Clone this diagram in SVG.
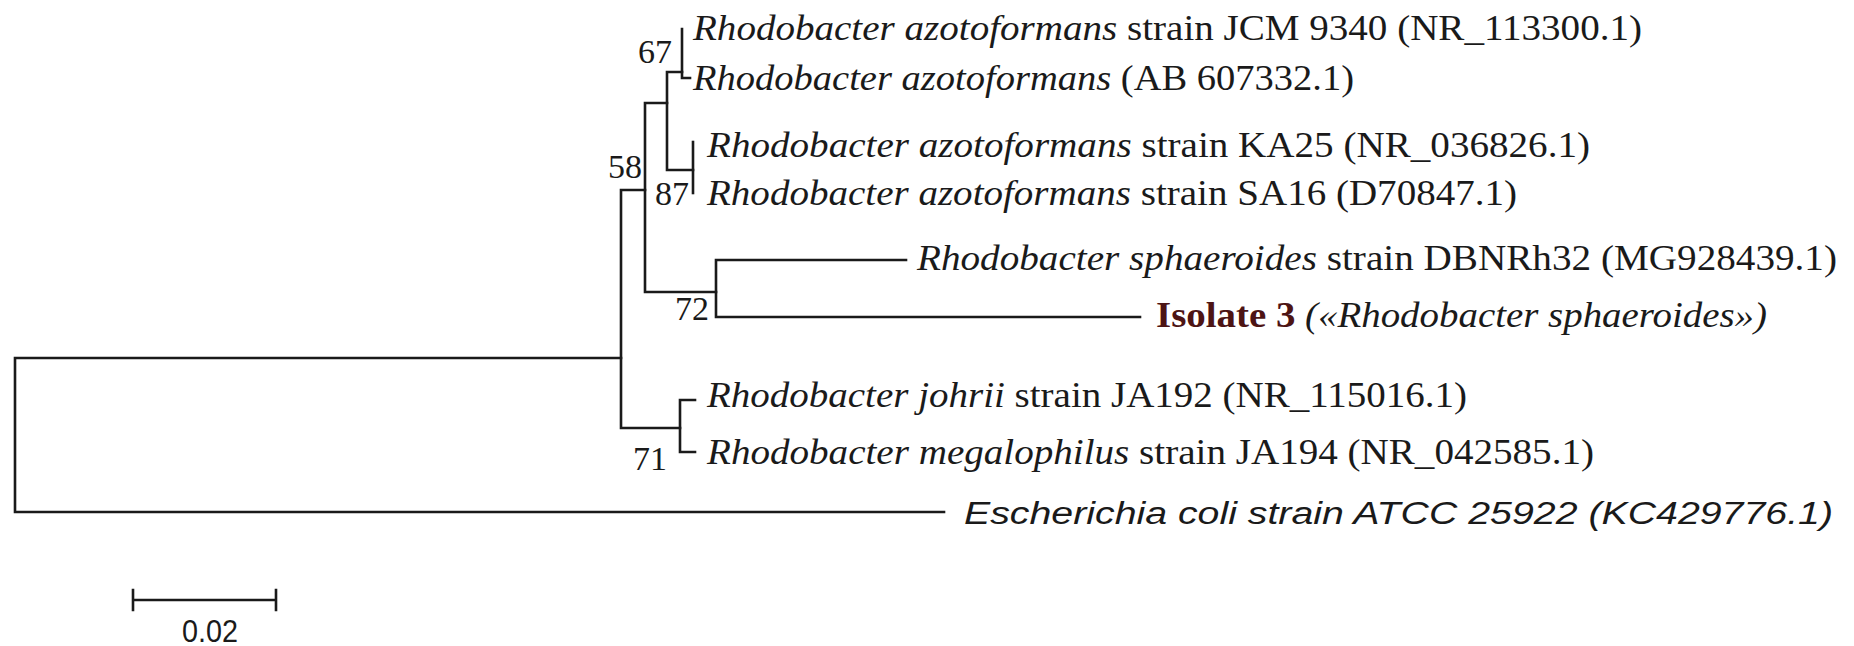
<svg xmlns="http://www.w3.org/2000/svg" width="1854" height="646" viewBox="0 0 1854 646">
<style>
.br{stroke:#1a1a1a;stroke-width:2.6;fill:none;stroke-linecap:square}
.lf{font-family:"Liberation Serif","Times New Roman",serif;font-size:35px;fill:#1a1a1a}
.it{font-style:italic}
.bs{font-family:"Liberation Serif","Times New Roman",serif;font-size:34px;fill:#1a1a1a}
.ec{font-family:"Liberation Sans",Arial,sans-serif;font-size:31px;font-style:italic;fill:#1a1a1a}
.iso{font-weight:bold;fill:#4d1414}
.sc{font-family:"Liberation Sans",Arial,sans-serif;font-size:32px;fill:#1a1a1a}
</style>
<rect width="1854" height="646" fill="#ffffff"/>
<g id="connectors">
<path class="br" d="M15,358V512M15,358H621M15,512H944"/>
<path class="br" d="M621,190V428M621,190H645M621,428H680"/>
<path class="br" d="M680,400V452M680,400H695M680,452H695"/>
<path class="br" d="M645,103V292M645,103H667M645,292H716"/>
<path class="br" d="M716,260V317M716,260H906M716,317H1140"/>
<path class="br" d="M667,72V170M667,72H682M667,170H693"/>
<path class="br" d="M682,29V78H690"/>
<path class="br" d="M693,142V193"/>
</g>
<g id="leaf-jcm9340"><text class="lf" x="693" y="40" textLength="949" lengthAdjust="spacingAndGlyphs"><tspan class="it">Rhodobacter azotoformans</tspan> strain JCM 9340 (NR_113300.1)</text></g>
<g id="leaf-ab607332"><text class="lf" x="693" y="90" textLength="661" lengthAdjust="spacingAndGlyphs"><tspan class="it">Rhodobacter azotoformans</tspan> (AB 607332.1)</text></g>
<g id="leaf-ka25"><text class="lf" x="707" y="157" textLength="883" lengthAdjust="spacingAndGlyphs"><tspan class="it">Rhodobacter azotoformans</tspan> strain KA25 (NR_036826.1)</text></g>
<g id="leaf-sa16"><text class="lf" x="707" y="205" textLength="810" lengthAdjust="spacingAndGlyphs"><tspan class="it">Rhodobacter azotoformans</tspan> strain SA16 (D70847.1)</text></g>
<g id="leaf-dbnrh32"><text class="lf" x="917" y="270" textLength="920" lengthAdjust="spacingAndGlyphs"><tspan class="it">Rhodobacter sphaeroides</tspan> strain DBNRh32 (MG928439.1)</text></g>
<g id="leaf-isolate3"><text class="lf" x="1156" y="327" textLength="611" lengthAdjust="spacingAndGlyphs"><tspan class="iso">Isolate 3</tspan> <tspan class="it">(«Rhodobacter sphaeroides»)</tspan></text></g>
<g id="leaf-ja192"><text class="lf" x="707" y="407" textLength="760" lengthAdjust="spacingAndGlyphs"><tspan class="it">Rhodobacter johrii</tspan> strain JA192 (NR_115016.1)</text></g>
<g id="leaf-ja194"><text class="lf" x="707" y="464" textLength="887" lengthAdjust="spacingAndGlyphs"><tspan class="it">Rhodobacter megalophilus</tspan> strain JA194 (NR_042585.1)</text></g>
<g id="leaf-ecoli"><text class="ec" x="964" y="524" textLength="869" lengthAdjust="spacingAndGlyphs">Escherichia coli strain ATCC 25922 (KC429776.1)</text></g>
<g id="bootstrap">
<text class="bs" x="638" y="63">67</text>
<text class="bs" x="608" y="178">58</text>
<text class="bs" x="655" y="205">87</text>
<text class="bs" x="675" y="320">72</text>
<text class="bs" x="633" y="470">71</text>
</g>
<g id="scale-bar">
<path class="br" d="M133,600H276M133,590V610M276,590V610"/>
<text class="sc" x="210" y="642" text-anchor="middle" textLength="56" lengthAdjust="spacingAndGlyphs">0.02</text>
</g>
</svg>
